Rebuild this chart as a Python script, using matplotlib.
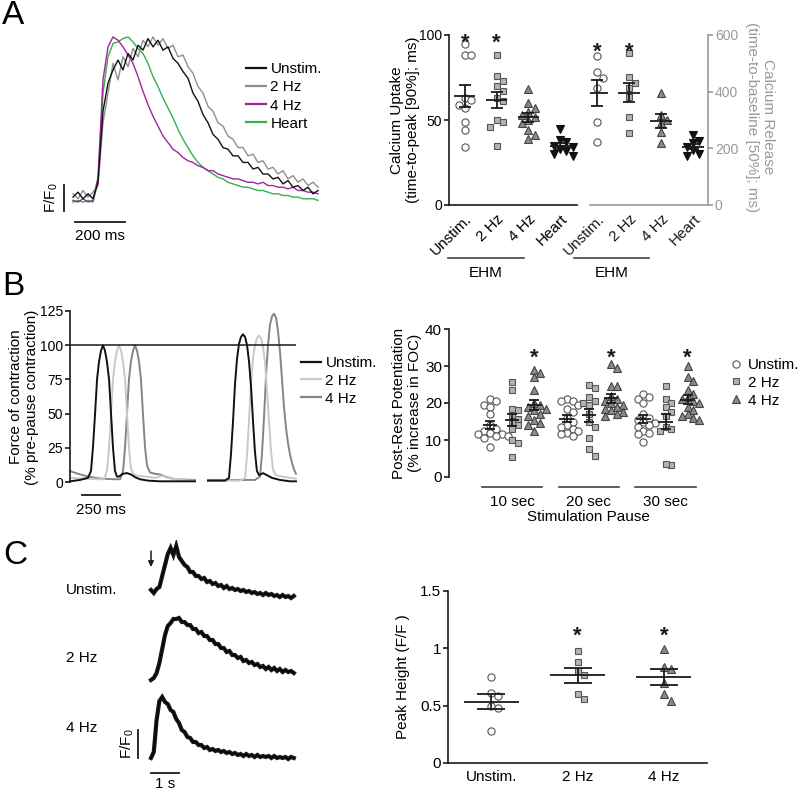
import numpy as np
import matplotlib

matplotlib.use("Agg")
import matplotlib.pyplot as plt
from matplotlib.lines import Line2D

plt.rcParams["font.family"] = ["Liberation Sans", "DejaVu Sans"]
plt.rcParams["font.size"] = 11
plt.rcParams["mathtext.fontset"] = "custom"
plt.rcParams["mathtext.rm"] = "Liberation Sans"
plt.rcParams["mathtext.it"] = "Liberation Sans:italic"

# ── Panel A: calcium transients (normalised, one sample every 20 ms) ──
A_DT_MS = 20
a_unstim = [0.03, 0.06, 0.02, 0.05, 0.02, 0.12, 0.55, 0.72, 0.80, 0.86,
            0.80, 0.90, 0.86, 0.95, 0.92, 0.99, 0.94, 0.98, 0.92, 0.94,
            0.87, 0.84, 0.79, 0.75, 0.66, 0.61, 0.53, 0.48, 0.41, 0.38,
            0.33, 0.32, 0.28, 0.28, 0.24, 0.24, 0.20, 0.21, 0.17, 0.17,
            0.14, 0.15, 0.11, 0.13, 0.09, 0.10, 0.07, 0.09, 0.05, 0.07]
a_2hz = [0.05, 0.02, 0.07, 0.03, 0.06, 0.10, 0.48, 0.66, 0.84, 0.74,
         0.88, 0.82, 0.93, 0.88, 0.98, 0.94, 1.00, 0.95, 0.99, 0.93,
         0.95, 0.88, 0.89, 0.82, 0.78, 0.70, 0.66, 0.58, 0.55, 0.48,
         0.46, 0.40, 0.38, 0.33, 0.33, 0.28, 0.29, 0.24, 0.25, 0.20,
         0.21, 0.17, 0.19, 0.14, 0.16, 0.12, 0.14, 0.10, 0.12, 0.09]
a_4hz = [0.01, 0.00, 0.02, 0.00, 0.01, 0.15, 0.74, 0.94, 1.00, 0.98,
         0.94, 0.89, 0.84, 0.76, 0.67, 0.59, 0.52, 0.46, 0.40, 0.36,
         0.32, 0.30, 0.27, 0.25, 0.24, 0.22, 0.21, 0.19, 0.19, 0.17,
         0.16, 0.15, 0.14, 0.14, 0.13, 0.12, 0.12, 0.11, 0.12, 0.10,
         0.10, 0.09, 0.09, 0.08, 0.09, 0.07, 0.07, 0.06, 0.06, 0.05]
a_heart = [0.00, 0.01, 0.00, 0.01, 0.00, 0.12, 0.66, 0.88, 0.96, 0.97,
           0.99, 1.00, 0.97, 0.93, 0.90, 0.84, 0.76, 0.70, 0.63, 0.57,
           0.51, 0.44, 0.38, 0.33, 0.28, 0.24, 0.21, 0.19, 0.17, 0.15,
           0.14, 0.12, 0.11, 0.10, 0.09, 0.09, 0.08, 0.07, 0.07, 0.06,
           0.05, 0.05, 0.04, 0.04, 0.03, 0.03, 0.02, 0.02, 0.02, 0.01]
a_trace_labels = ["Unstim.", "2 Hz", "4 Hz", "Heart"]

# ── Panel A: uptake / release kinetics (ms) ──
a_groups = ["Unstim.", "2 Hz", "4 Hz", "Heart"]
uptake_unstim = [95, 88, 88, 63, 62, 59, 57, 49, 44, 34]
uptake_2hz = [88, 76, 73, 70, 67, 63, 61, 50, 49, 46, 35]
uptake_4hz = [68, 60, 57, 55, 53, 52, 50, 48, 44, 41, 39]
uptake_heart = [45, 38, 37, 35, 34, 33, 32, 30, 29]
release_unstim = [526, 470, 450, 412, 294, 224]
release_2hz = [535, 453, 432, 412, 380, 312, 255]
release_4hz = [396, 318, 300, 288, 259, 218]
release_heart = [247, 225, 220, 205, 195, 180, 172]
a_signif = ["Unstim.", "2 Hz"]

# ── Panel B: force traces (% pre-pause), before and after the pause ──
b_unstim_t = [0, 66, 118, 138, 151, 165, 178, 191, 204, 217, 230, 243, 257,
              270, 283, 296, 309, 322, 349, 375, 401, 428, 461, 513, 592, 822]
b_unstim_y = [0.5, 1.5, 3, 8, 25, 50, 75, 88, 96, 100, 96, 88, 75,
              50, 25, 8, 4, 4, 6, 6.5, 5.5, 3.5, 2, 1, 0.5, 0.5]
b_unstim_t2 = [908, 1020, 1046, 1059, 1073, 1086, 1099, 1112, 1125, 1138, 1152,
               1165, 1178, 1191, 1204, 1217, 1230, 1244, 1270, 1296, 1329,
               1382, 1448, 1487]
b_unstim_y2 = [1, 1, 3, 20, 45, 72, 90, 101, 106, 108, 106,
               100, 88, 70, 45, 22, 8, 5, 6.5, 5, 3,
               1.5, 0.5, 0.5]
b_2hz_t = [0, 99, 197, 224, 243, 257, 270, 283, 296, 309, 322, 336, 349,
           362, 375, 388, 401, 415, 441, 494, 559, 605, 645, 724, 822]
b_2hz_y = [3, 2.5, 2, 2, 8, 25, 50, 75, 88, 96, 100, 96, 88,
           75, 50, 25, 10, 6, 4.5, 4, 3, 4.5, 3, 1.5, 1]
b_2hz_t2 = [908, 1119, 1152, 1165, 1178, 1191, 1204, 1217, 1230, 1244, 1257,
            1270, 1283, 1296, 1310, 1323, 1336, 1356, 1395, 1448, 1487]
b_2hz_y2 = [1, 1, 3, 20, 45, 72, 90, 100, 105, 107, 105,
            99, 87, 68, 44, 22, 9, 5, 4, 3, 2.5]
b_4hz_t = [0, 53, 118, 197, 296, 329, 349, 362, 375, 388, 401, 415, 428,
           441, 454, 467, 480, 494, 507, 526, 559, 592, 625, 691, 822]
b_4hz_y = [8, 6, 4, 2.5, 2, 2, 8, 25, 50, 75, 88, 96, 100,
           96, 88, 75, 50, 25, 12, 7, 6, 5.5, 4, 2, 1.5]
b_4hz_t2 = [908, 1217, 1250, 1263, 1277, 1290, 1303, 1316, 1329, 1342, 1356,
            1369, 1382, 1395, 1408, 1421, 1435, 1448, 1461, 1474, 1487]
b_4hz_y2 = [1.5, 1.5, 4, 20, 48, 78, 100, 115, 121, 123, 120,
            110, 95, 75, 55, 40, 28, 20, 14, 9, 6]
b_trace_labels = ["Unstim.", "2 Hz", "4 Hz"]

# ── Panel B: post-rest potentiation (% increase in FOC) ──
prp_pauses = ["10 sec", "20 sec", "30 sec"]
prp_unstim = [[21, 20.5, 19.5, 19, 17, 14, 13, 12.5, 12, 11.5, 11.5, 11, 11, 10.5, 8],
              [21, 20.5, 20.5, 19.5, 18.5, 17.5, 16, 15, 14, 13.5, 13, 12.5, 12, 11.5, 11],
              [22.5, 21.5, 21, 20, 17, 16, 15.5, 15, 14.5, 14, 13.5, 12.5, 12, 11.5, 9.5]]
prp_2hz = [[25.7, 23.5, 18.5, 18, 16.7, 15.8, 14.9, 14, 13.1, 9.9, 9.2, 5.4],
           [25, 24, 21.5, 20.5, 20, 19.5, 17, 15, 13.5, 10.5, 7.5, 5.8],
           [24.5, 21, 20, 19, 17.5, 16.5, 13.5, 13, 12.5, 3.2, 3.5]]
prp_4hz = [[29, 28, 27, 23.5, 20, 19.5, 19, 18.5, 18, 17, 16.5, 15.5, 14.5, 14, 12.5],
           [30.5, 29.5, 24.5, 24.5, 22, 21, 20.5, 20, 19.5, 19, 18.5, 18, 17.5, 17, 16.5],
           [30, 27, 26, 23.5, 22.5, 21.5, 21, 20.5, 20, 19, 18, 17, 16.5, 16, 15.5]]

# ── Panel C: caffeine-induced transients (one sample every 0.1 s) ──
C_DT_S = 0.1
c_unstim = [0.02, -0.01, 0.03, 0.05, 0.16, 0.27, 0.38, 0.44, 0.37, 0.46,
            0.35, 0.31, 0.27, 0.25, 0.20, 0.20, 0.16, 0.16, 0.13, 0.14,
            0.10, 0.11, 0.08, 0.09, 0.06, 0.07, 0.04, 0.06, 0.03, 0.04,
            0.02, 0.03, 0.01, 0.02, 0.00, 0.01, -0.01, 0.00, -0.02, -0.01,
            -0.03, -0.01, -0.03, -0.02, -0.04, -0.03, -0.05, -0.03, -0.05, -0.04,
            -0.06, -0.04]
c_2hz = [0.00, 0.02, 0.07, 0.17, 0.31, 0.45, 0.54, 0.57, 0.61, 0.61,
         0.62, 0.58, 0.58, 0.55, 0.55, 0.51, 0.51, 0.47, 0.48, 0.44,
         0.44, 0.40, 0.40, 0.36, 0.36, 0.32, 0.32, 0.28, 0.29, 0.25,
         0.25, 0.22, 0.23, 0.19, 0.20, 0.17, 0.18, 0.15, 0.16, 0.13,
         0.14, 0.11, 0.13, 0.10, 0.12, 0.09, 0.11, 0.08, 0.10, 0.08,
         0.09, 0.07]
c_4hz = [0.00, 0.06, 0.38, 0.57, 0.61, 0.56, 0.54, 0.48, 0.46, 0.39,
         0.35, 0.28, 0.26, 0.21, 0.20, 0.16, 0.16, 0.13, 0.13, 0.10,
         0.11, 0.08, 0.09, 0.07, 0.08, 0.06, 0.07, 0.05, 0.06, 0.04,
         0.05, 0.03, 0.04, 0.02, 0.04, 0.02, 0.03, 0.01, 0.03, 0.01,
         0.02, 0.01, 0.02, 0.00, 0.02, 0.00, 0.01, 0.00, 0.01, -0.01,
         0.01, 0.00]
c_trace_labels = ["Unstim.", "2 Hz", "4 Hz"]

# ── Panel C: peak height (F/F0) ──
peak_groups = ["Unstim.", "2 Hz", "4 Hz"]
peak_unstim = [0.75, 0.61, 0.58, 0.50, 0.48, 0.28]
peak_2hz = [0.98, 0.88, 0.80, 0.77, 0.60, 0.56]
peak_4hz = [0.99, 0.84, 0.82, 0.70, 0.60, 0.54]
peak_signif = ["2 Hz", "4 Hz"]

# ── Styling ──
W, H = 800, 792
INK = "#1a1a1a"
GREY_AX = "#999999"
A_COLORS = ["#111111", "#8f8f8f", "#a3239f", "#35b04a"]
B_COLORS = ["#111111", "#c9c9c9", "#858585"]
MARKERS = {
    "Unstim.": dict(marker="o", mfc="white", mec="#555555", ms=5.2),
    "2 Hz": dict(marker="s", mfc="#b3b3b3", mec="#555555", ms=4.8),
    "4 Hz": dict(marker="^", mfc="#8a8a8a", mec="#444444", ms=5.2),
    "Heart": dict(marker="v", mfc="#111111", mec="#111111", ms=5.2),
}

fig = plt.figure(figsize=(W / 100, H / 100), dpi=100, facecolor="white")


def add_ax(left, top, right, bottom):
    """Axes placed by pixel box (origin top-left)."""
    return fig.add_axes([left / W, 1 - bottom / H, (right - left) / W, (bottom - top) / H])


def ftext(x, y, s, **kw):
    fig.text(x / W, 1 - y / H, s, **kw)


def fline(x0, x1, y, color=INK, lw=1.2):
    fig.add_artist(Line2D([x0 / W, x1 / W], [1 - y / H, 1 - y / H], color=color, lw=lw))


def style_axis(ax, keep, color=INK, labelsize=11):
    for name, sp in ax.spines.items():
        sp.set_visible(name in keep)
        sp.set_color(color)
        sp.set_linewidth(1.2)
    ax.tick_params(direction="out", length=3.5, width=1.2, labelsize=labelsize, pad=1.5,
                   color=color)


def px_per_unit(ax):
    box = ax.get_position()
    x0, x1 = ax.get_xlim()
    y0, y1 = ax.get_ylim()
    return box.width * W / (x1 - x0), box.height * H / (y1 - y0)


def swarm(vals, thr, step):
    """Deterministic beeswarm offsets so markers do not overlap."""
    vals = np.asarray(vals, float)
    offs = np.zeros(len(vals))
    placed = []
    for i in np.argsort(-vals):
        for k in range(20):
            c = ((k + 1) // 2) * step * (1 if k % 2 else -1)
            if all(abs(c - o) >= step * 0.99 or abs(vals[i] - pv) >= thr for o, pv in placed):
                offs[i] = c
                placed.append((c, vals[i]))
                break
    return offs


def dot_column(ax, x, vals, name, half_mean, cap, size_px=7.0):
    ppx, ppy = px_per_unit(ax)
    offs = swarm(vals, size_px / ppy, size_px * 0.9 / ppx)
    ax.plot(x + offs, vals, ls="none", mew=0.8, zorder=3, clip_on=False, **MARKERS[name])
    m = np.mean(vals)
    sem = np.std(vals, ddof=1) / np.sqrt(len(vals))
    ax.hlines(m, x - half_mean, x + half_mean, color=INK, lw=1.3, zorder=4)
    ax.errorbar(x, m, yerr=sem, fmt="none", ecolor=INK, elinewidth=1.3,
                capsize=cap, capthick=1.3, zorder=4)


def star(ax, x, y, size=16):
    ax.annotate("*", (x, y), xytext=(0, -10), textcoords="offset points",
                ha="center", va="baseline", fontsize=size, fontweight="bold", color=INK)


# ════════════════ Panel A: traces ════════════════
ax = add_ax(40, 30, 330, 245)
ax.set_xlim(-132, 1028)
ax.set_ylim(-0.26, 1.042)
ax.axis("off")
series_a = [a_unstim, a_2hz, a_4hz, a_heart]
for idx in [3, 2, 1, 0]:
    vals = series_a[idx]
    t = np.arange(len(vals)) * A_DT_MS
    ax.plot(t, vals, color=A_COLORS[idx], lw=1.0)
ax.plot([8, 208], [-0.121, -0.121], color=INK, lw=1.3, clip_on=False)
ax.text(108, -0.165, "200 ms", ha="center", va="top", fontsize=11)
ax.plot([-36, -36], [-0.055, 0.103], color=INK, lw=1.3, clip_on=False)
ax.text(-86, 0.024, "F/F$_0$", rotation=90, ha="center", va="center", fontsize=11)
handles = [Line2D([], [], color=c, lw=1.6) for c in A_COLORS]
fig.legend(handles, a_trace_labels, loc="upper left", bbox_to_anchor=(246 / W, 1 - 62 / H),
           frameon=False, handlelength=1.3, handletextpad=0.3, labelspacing=0.28,
           borderpad=0, borderaxespad=0, fontsize=11)

# ════════════════ Panel A: uptake / release ════════════════
ax_up = add_ax(449, 35, 577, 205)
ax_up.set_xlim(-0.5, 3.53)
ax_up.set_ylim(0, 100)
style_axis(ax_up, ["left", "bottom"], labelsize=10)
ax_up.set_yticks([0, 50, 100])
ax_up.set_xticks(range(len(a_groups)))
ax_up.set_xticklabels(a_groups, rotation=45, ha="right", rotation_mode="anchor", fontsize=11)
ax_up.tick_params(axis="x", length=0, pad=5)
for i, vals in enumerate([uptake_unstim, uptake_2hz, uptake_4hz, uptake_heart]):
    dot_column(ax_up, i, vals, a_groups[i], 0.33, 4.3)
    if a_groups[i] in a_signif:
        star(ax_up, i, 100)

ax_rel = add_ax(590, 35, 708, 205)
ax_rel.set_xlim(-0.22, 3.47)
ax_rel.set_ylim(0, 600)
style_axis(ax_rel, ["right", "bottom"], color=GREY_AX, labelsize=10)
ax_rel.yaxis.tick_right()
ax_rel.set_yticks([0, 200, 400, 600])
ax_rel.tick_params(axis="y", labelcolor=GREY_AX)
ax_rel.set_xticks(range(len(a_groups)))
ax_rel.set_xticklabels(a_groups, rotation=45, ha="right", rotation_mode="anchor",
                       color=INK, fontsize=11)
ax_rel.tick_params(axis="x", length=0, pad=5)
for i, vals in enumerate([release_unstim, release_2hz, release_4hz, release_heart]):
    dot_column(ax_rel, i, vals, a_groups[i], 0.33, 4.3)
    if a_groups[i] in a_signif:
        star(ax_rel, i, 570)

ftext(405, 120, "Calcium Uptake\n(time-to-peak [90%]; ms)", rotation=90,
      ha="center", va="center", ma="center", fontsize=11)
ftext(760, 117, "Calcium Release\n(time-to-baseline [50%]; ms)", rotation=270,
      ha="center", va="center", ma="center", fontsize=11, color=GREY_AX)
fline(448, 524, 258, color="#444444")
fline(574, 649, 258, color="#444444")
ftext(486, 273, "EHM", ha="center", va="center", fontsize=11)
ftext(612, 273, "EHM", ha="center", va="center", fontsize=11)

# ════════════════ Panel B: force traces ════════════════
ax_b = add_ax(70, 311, 301, 482)
ax_b.set_xlim(0, 1520)
ax_b.set_ylim(0, 125)
style_axis(ax_b, ["left"], labelsize=10)
ax_b.set_xticks([])
ax_b.set_yticks([0, 25, 50, 75, 100, 125])
b_first = [(b_unstim_t, b_unstim_y), (b_2hz_t, b_2hz_y), (b_4hz_t, b_4hz_y)]
b_second = [(b_unstim_t2, b_unstim_y2), (b_2hz_t2, b_2hz_y2), (b_4hz_t2, b_4hz_y2)]
for idx in [2, 1, 0]:
    for t, y in (b_first[idx], b_second[idx]):
        ax_b.plot(t, y, color=B_COLORS[idx], lw=1.4, clip_on=False)
ax_b.hlines(100, 0, max(b_4hz_t2), color=INK, lw=1.1)
ax_b.plot([79, 329], [-9.5, -9.5], color=INK, lw=1.3, clip_on=False)
ax_b.text(204, -15.5, "250 ms", ha="center", va="top", fontsize=11)
ftext(24, 397, "Force of contraction\n(% pre-pause contraction)", rotation=90,
      ha="center", va="center", ma="center", fontsize=11)
handles = [Line2D([], [], color=c, lw=1.6) for c in B_COLORS]
fig.legend(handles, b_trace_labels, loc="upper left", bbox_to_anchor=(301 / W, 1 - 356 / H),
           frameon=False, handlelength=1.3, handletextpad=0.3, labelspacing=0.25,
           borderpad=0, borderaxespad=0, fontsize=11)

# ════════════════ Panel B: post-rest potentiation ════════════════
GROUP_GAP = 3.47
ax_p = add_ax(449, 329, 700, 477)
ax_p.set_xlim(-1.86, 9.5)
ax_p.set_ylim(0, 40)
style_axis(ax_p, ["left"])
ax_p.set_xticks([])
ax_p.set_yticks([0, 10, 20, 30, 40])
prp_sets = [prp_unstim, prp_2hz, prp_4hz]
prp_names = ["Unstim.", "2 Hz", "4 Hz"]
xt = ax_p.get_xaxis_transform()
for g, pause in enumerate(prp_pauses):
    base = g * GROUP_GAP
    for i, sets in enumerate(prp_sets):
        dot_column(ax_p, base + i, sets[g], prp_names[i], 0.33, 3.5, size_px=6.5)
    star(ax_p, base + 2, 34.5)
    ax_p.plot([base - 0.37, base + 2.37], [-0.068, -0.068], color="#444444", lw=1.2,
              transform=xt, clip_on=False)
    ax_p.text(base + 1, -0.17, pause, transform=xt, ha="center", va="center", fontsize=11)
ax_p.text(GROUP_GAP + 1, -0.27, "Stimulation Pause", transform=xt, ha="center",
          va="center", fontsize=11)
ftext(407, 403, "Post-Rest Potentiation\n(% increase in FOC)", rotation=90,
      ha="center", va="center", ma="center", fontsize=11)
handles = [Line2D([], [], ls="none", mew=0.8, **MARKERS[n]) for n in prp_names]
fig.legend(handles, prp_names, loc="upper left", bbox_to_anchor=(730 / W, 1 - 358 / H),
           frameon=False, handlelength=0.8, handletextpad=0.4, labelspacing=0.25,
           borderpad=0, borderaxespad=0, fontsize=11)

# ════════════════ Panel C: traces ════════════════
C_BASELINES = [1.88, 1.00, 0.22]
ax_c = add_ax(100, 540, 300, 792)
ax_c.set_xlim(-1.821, 5.321)
ax_c.set_ylim(-0.12, 2.4)
ax_c.axis("off")
for vals, base in zip([c_unstim, c_2hz, c_4hz], C_BASELINES):
    t = np.arange(len(vals)) * C_DT_S
    ax_c.plot(t, np.asarray(vals) + base, color=INK, lw=3.0, solid_joinstyle="miter")
    ax_c.plot(t, np.asarray(vals) + base, color="#000000", lw=0.8)
ax_c.annotate("", xy=(0, 2.13), xytext=(0, 2.29),
              arrowprops=dict(arrowstyle="-|>", color=INK, lw=1.1, mutation_scale=8,
                              shrinkA=0, shrinkB=0))
ax_c.plot([-0.464, -0.464], [0.22, 0.50], color=INK, lw=1.3, clip_on=False)
ax_c.text(-0.86, 0.36, "F/F$_0$", rotation=90, ha="center", va="center", fontsize=11)
ax_c.plot([0, 1], [0.07, 0.07], color=INK, lw=1.3, clip_on=False)
ax_c.text(0.5, 0.03, "1 s", ha="center", va="top", fontsize=11)
for lab, y in zip(c_trace_labels, [590, 658, 728]):
    ftext(66, y, lab, ha="left", va="center", fontsize=11)

# ════════════════ Panel C: peak height ════════════════
ax_k = add_ax(448, 591, 707, 763)
ax_k.set_xlim(-0.5, 2.5)
ax_k.set_ylim(0, 1.5)
style_axis(ax_k, ["left", "bottom"])
ax_k.set_yticks([0, 0.5, 1, 1.5])
ax_k.set_yticklabels(["0", "0.5", "1", "1.5"])
ax_k.set_xticks(range(len(peak_groups)))
ax_k.set_xticklabels(peak_groups)
ax_k.tick_params(axis="x", length=0, pad=5)
for i, vals in enumerate([peak_unstim, peak_2hz, peak_4hz]):
    dot_column(ax_k, i, vals, peak_groups[i], 0.32, 10, size_px=7.5)
    if peak_groups[i] in peak_signif:
        star(ax_k, i, 1.18)
ftext(403, 677, "Peak Height (F/F )", rotation=90, ha="center", va="center", fontsize=11)

# ── Panel letters ──
ftext(2, 15, "A", fontsize=24, ha="left", va="center")
ftext(2, 286, "B", fontsize=24, ha="left", va="center")
ftext(3, 556, "C", fontsize=24, ha="left", va="center")

fig.savefig("out.png", dpi=100, facecolor="white")
